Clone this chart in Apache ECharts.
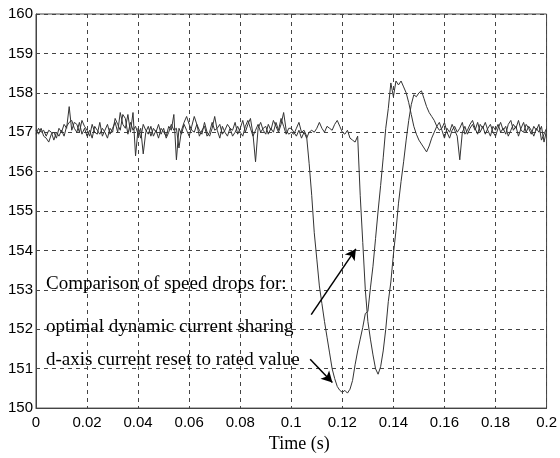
<!DOCTYPE html>
<html>
<head>
<meta charset="utf-8">
<script src="https://cdn.jsdelivr.net/npm/echarts@6/dist/echarts.min.js"></script>
<style>html,body{margin:0;padding:0;background:#fff}#c{width:560px;height:458px}</style>
</head>
<body>
<div id="c"></div>
<script>
// time step of the sampled curves (s)
const timeStep = 0.001;
const xTicks = ['0','0.02','0.04','0.06','0.08','0.1','0.12','0.14','0.16','0.18','0.2'];
const yTicks = [150,151,152,153,154,155,156,157,158,159,160];

// Curve A: d-axis current reset to rated value (deeper drop)
const speedA_pre = [
157.05,156.95,157.1,156.9,156.85,156.75,156.95,157.0,156.85,157.1,
157.0,157.2,157.1,157.65,157.05,157.25,157.2,157.0,157.3,157.15,
157.05,156.9,157.2,157.0,156.95,157.25,156.9,157.05,157.2,156.95,
157.1,157.25,157.0,157.5,157.2,157.1,157.45,157.0,157.5,156.4,
157.1,156.85,157.2,157.05,156.95,157.15,156.9,157.05,156.85,157.1,
157.0,156.9,157.15,157.05,157.45,156.3,157.1,156.95,157.2,157.05,
156.9,157.15,157.4,157.2,157.05,156.95,157.25,157.0,156.9,157.1,
157.4,157.05,156.85,157.15,157.0,156.9,157.1,157.05,157.25,156.95,
157.1,157.3,157.0,157.2,157.35,156.95,156.25,157.1,157.25,157.05,
156.95,157.2,157.05,157.3,157.15,157.0,157.2,157.5,157.05,156.95];
const speedA_drop = [
157.0,156.95,157.1,157.25,157.0,157.05,156.9,156.2,155.4,154.45,
153.78,153.1,152.65,152.2,151.8,151.4,151.0,150.75,150.55,150.45,
150.4,150.45,150.38,150.48,150.7,151.1,151.45,151.75,152.05,152.4,
152.45,153.05,153.6,154.3,155.0,155.65,156.35,157.1,157.6,158.25,
157.9,158.3,158.2,158.3,158.15,158.0,157.75,157.45,157.15,156.95,
156.8,156.7,156.6,156.5,156.65,156.85,157.0,157.15,157.25];
const speedA_post = [
157.05,156.85,157.1,157.0,157.2,157.05,156.9,156.3,157.0,157.15,
156.95,157.1,157.2,157.05,157.25,157.0,157.15,156.95,157.1,157.2,
157.0,156.9,157.1,157.25,157.05,157.15,156.9,157.05,157.2,157.1,
157.3,157.05,157.0,157.2,157.1,156.95,157.15,157.05,157.2,156.8,
156.95,157.1];

// Curve B: optimal dynamic current sharing (shallower drop)
const speedB_pre = [
156.95,157.1,157.0,157.05,156.9,157.05,157.0,156.8,157.0,156.9,
157.05,156.9,157.15,157.25,157.3,157.1,157.0,157.25,156.95,157.1,
156.9,157.05,156.85,157.15,157.05,156.95,157.1,157.0,156.85,157.1,
157.0,157.35,157.2,157.05,157.45,157.35,156.95,157.25,157.05,157.15,
156.95,157.1,156.45,157.0,157.15,156.9,157.1,157.0,157.2,156.95,
157.1,156.85,157.0,157.2,157.05,157.1,156.6,157.05,157.25,157.4,
157.2,157.05,157.0,157.2,156.9,157.05,157.15,156.9,157.0,157.25,
157.05,157.1,157.2,156.95,157.05,157.2,157.1,156.9,157.0,157.15,
157.0,156.9,157.15,157.3,157.1,156.9,157.05,157.2,157.0,157.1,
157.15,156.95,157.1,157.0,157.25,157.05,157.35,157.15,156.95,157.1];
const speedB_drop = [
157.1,157.0,156.9,157.05,156.85,157.0,156.85,157.0,157.05,157.0,
157.1,157.25,157.1,157.0,157.15,157.1,157.05,157.2,157.3,157.15,
157.0,156.95,157.05,156.85,156.8,156.75,156.9,155.4,154.2,153.0,
152.2,151.75,151.35,151.0,150.86,151.05,151.45,152.0,152.7,153.2,
153.9,154.5,155.2,155.75,156.25,156.8,157.3,157.7,157.95,157.9,
158.0,158.05,157.85,157.65,157.5,157.4,157.3,157.15,157.05];
const speedB_post = [
157.1,157.25,157.0,156.85,157.05,157.15,157.0,157.1,157.25,156.95,
157.05,157.2,157.3,157.1,156.95,157.2,157.1,157.25,157.05,156.9,
157.15,157.05,157.2,157.0,157.1,156.95,157.2,157.3,157.05,157.15,
156.9,157.1,157.25,157.0,157.15,157.05,156.9,157.1,157.0,157.15,
156.75,157.05];

// annotation texts and arrows (data coordinates)
const notes = [
  {text:'Comparison of speed drops for:', at:[0.0039,153.15]},
  {text:'optimal dynamic current sharing', at:[0.0039,152.07]},
  {text:'d-axis current reset to rated value', at:[0.0039,151.22]}
];
const arrows = [
  {from:[0.1078,152.37], to:[0.1253,154.04]},
  {from:[0.1074,151.24], to:[0.1161,150.65]}
];

const speedA = speedA_pre.concat(speedA_drop, speedA_post);
const speedB = speedB_pre.concat(speedB_drop, speedB_post);
const pairs = arr => arr.map((v,i) => [+(i*timeStep).toFixed(3), v]);

const chart = echarts.init(document.getElementById('c'), null, {renderer:'canvas'});
const labelFont = {fontFamily:'Liberation Sans, Arial, sans-serif', fontSize:15, color:'#000'};
const dash = {type:[4,4], color:'#444', width:1};
chart.setOption({
  animation:false,
  backgroundColor:'#fff',
  grid:{left:36, right:12, top:14, bottom:45, show:true, borderColor:'#444', borderWidth:1, containLabel:false},
  xAxis:{
    type:'value', min:0, max:0.2, interval:0.02,
    name:'Time (s)', nameLocation:'middle', nameGap:20,
    nameTextStyle:{fontFamily:'Liberation Serif, Times New Roman, serif', fontSize:18, color:'#000', padding:[0,0,0,16]},
    axisLine:{show:true, lineStyle:{color:'#444', width:1}},
    axisTick:{show:false},
    axisLabel:Object.assign({margin:7, formatter:v => xTicks[Math.round(v/0.02)]}, labelFont),
    splitLine:{show:true, lineStyle:dash}
  },
  yAxis:{
    type:'value', min:yTicks[0], max:yTicks[yTicks.length-1], interval:1,
    axisLine:{show:true, lineStyle:{color:'#444', width:1}},
    axisTick:{show:false},
    axisLabel:Object.assign({margin:3, formatter:v => String(v)}, labelFont),
    splitLine:{show:true, lineStyle:dash}
  },
  series:[
    {type:'line', data:pairs(speedA), symbol:'none', lineStyle:{color:'#333', width:1}, z:3},
    {type:'line', data:pairs(speedB), symbol:'none', lineStyle:{color:'#333', width:1}, z:3,
     markLine:{
       silent:true, symbol:['none','arrow'], symbolSize:[9,11], animation:false,
       label:{show:false},
       lineStyle:{color:'#000', width:1.5, type:'solid'},
       data:arrows.map(a => [{coord:a.from}, {coord:a.to}])
     }}
  ]
});

const texts = notes.map(n => {
  const p = chart.convertToPixel({gridIndex:0}, n.at);
  return {type:'text', x:p[0], y:p[1], style:{text:n.text, fill:'#000',
    font:'19px "Liberation Serif", "Times New Roman", serif', verticalAlign:'middle', align:'left'}, z:10};
});
chart.setOption({graphic:texts});
</script>
</body>
</html>
